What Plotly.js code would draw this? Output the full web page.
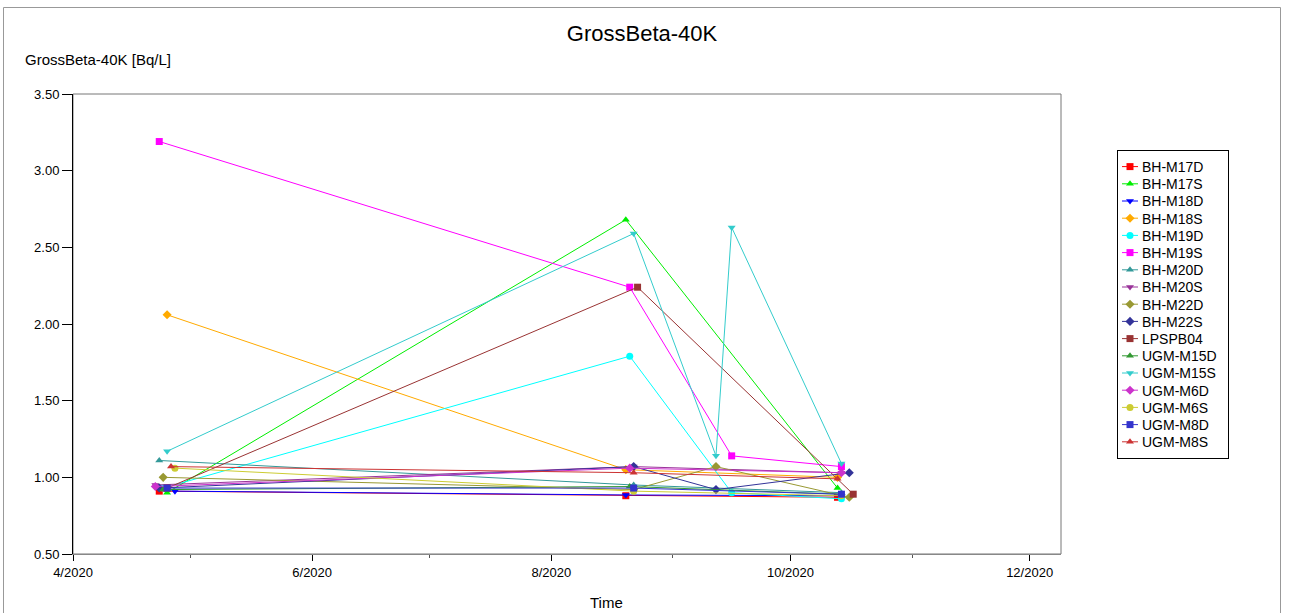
<!DOCTYPE html>
<html>
<head>
<meta charset="utf-8">
<script src="https://cdn.plot.ly/plotly-3.0.1.min.js"></script>
<style>html,body{margin:0;padding:0;background:#fff;}#chart{width:1296px;height:613px;}</style>
</head>
<body>
<div id="chart"></div>
<script>
// ---- data ----
const seriesNames = ["BH-M17D","BH-M17S","BH-M18D","BH-M18S","BH-M19D","BH-M19S","BH-M20D","BH-M20S","BH-M22D","BH-M22S","LPSPB04","UGM-M15D","UGM-M15S","UGM-M6D","UGM-M6S","UGM-M8D","UGM-M8S"];

const dates_BH_M17D = ["2020-04-23","2020-08-20","2020-10-13"];
const vals_BH_M17D  = [0.91, 0.88, 0.87];
const dates_BH_M17S = ["2020-04-25","2020-08-20","2020-10-13"];
const vals_BH_M17S  = [0.90, 2.68, 0.93];
const dates_BH_M18D = ["2020-04-27","2020-08-20","2020-10-14"];
const vals_BH_M18D  = [0.91, 0.885, 0.88];
const dates_BH_M18S = ["2020-04-25","2020-08-20","2020-10-13"];
const vals_BH_M18S  = [2.06, 1.05, 1.00];
const dates_BH_M19D = ["2020-04-24","2020-08-21","2020-09-16","2020-10-14"];
const vals_BH_M19D  = [0.93, 1.79, 0.90, 0.86];
const dates_BH_M19S = ["2020-04-23","2020-08-21","2020-09-16","2020-10-14"];
const vals_BH_M19S  = [3.19, 2.24, 1.14, 1.07];
const dates_BH_M20D = ["2020-04-23","2020-08-22","2020-10-14"];
const vals_BH_M20D  = [1.11, 0.95, 0.90];
const dates_BH_M20S = ["2020-04-22","2020-08-22","2020-10-14"];
const vals_BH_M20S  = [0.95, 1.07, 1.03];
const dates_BH_M22D = ["2020-04-24","2020-08-22","2020-09-12","2020-10-16"];
const vals_BH_M22D  = [1.00, 0.92, 1.07, 0.87];
const dates_BH_M22S = ["2020-04-23","2020-08-22","2020-09-12","2020-10-16"];
const vals_BH_M22S  = [0.93, 1.07, 0.92, 1.03];
const dates_LPSPB04 = ["2020-04-25","2020-08-23","2020-10-17"];
const vals_LPSPB04  = [0.93, 2.24, 0.89];
const dates_UGM_M15D = ["2020-04-24","2020-08-21","2020-10-14"];
const vals_UGM_M15D  = [0.92, 0.94, 0.89];
const dates_UGM_M15S = ["2020-04-25","2020-08-22","2020-09-12","2020-09-16","2020-10-14"];
const vals_UGM_M15S  = [1.17, 2.59, 1.14, 2.63, 1.09];
const dates_UGM_M6D = ["2020-04-22","2020-08-21","2020-10-14"];
const vals_UGM_M6D  = [0.94, 1.06, 1.03];
const dates_UGM_M6S = ["2020-04-27","2020-08-22","2020-10-14"];
const vals_UGM_M6S  = [1.06, 0.91, 0.88];
const dates_UGM_M8D = ["2020-04-25","2020-08-22","2020-10-14"];
const vals_UGM_M8D  = [0.93, 0.93, 0.89];
const dates_UGM_M8S = ["2020-04-26","2020-08-22","2020-10-13"];
const vals_UGM_M8S  = [1.07, 1.03, 0.99];

const allDates = [dates_BH_M17D,dates_BH_M17S,dates_BH_M18D,dates_BH_M18S,dates_BH_M19D,dates_BH_M19S,dates_BH_M20D,dates_BH_M20S,dates_BH_M22D,dates_BH_M22S,dates_LPSPB04,dates_UGM_M15D,dates_UGM_M15S,dates_UGM_M6D,dates_UGM_M6S,dates_UGM_M8D,dates_UGM_M8S];
const allVals = [vals_BH_M17D,vals_BH_M17S,vals_BH_M18D,vals_BH_M18S,vals_BH_M19D,vals_BH_M19S,vals_BH_M20D,vals_BH_M20S,vals_BH_M22D,vals_BH_M22S,vals_LPSPB04,vals_UGM_M15D,vals_UGM_M15S,vals_UGM_M6D,vals_UGM_M6S,vals_UGM_M8D,vals_UGM_M8S];

// ---- styles ----
const colors = ["#ff0000","#00ee00","#0000ff","#ffaa00","#00ffff","#ff00ff","#339999","#993399","#999933","#333399","#993333","#339933","#33cccc","#cc33cc","#cccc33","#3333cc","#cc3333"];
const symbols = ["square","triangle-up","triangle-down","diamond","circle","square","triangle-up","triangle-down","diamond","diamond","square","triangle-up","triangle-down","diamond","circle","square","triangle-up"];

const FONT = "Liberation Sans, Arial, sans-serif";

const traces = seriesNames.map((n, i) => ({
  type: "scatter",
  mode: "lines+markers",
  name: n,
  x: allDates[i],
  y: allVals[i],
  line: {color: colors[i], width: 1},
  marker: {color: colors[i], symbol: symbols[i], size: 7},
  cliponaxis: false
}));

const W = 1296, H = 613;
const L = 73, R = 1061, T = 94, B = 554;
const px2x = p => (p - L) / (R - L);
const px2y = p => (B - p) / (B - T);

const layout = {
  width: W, height: H,
  margin: {l: L, r: W - R, t: T, b: H - B, pad: 0},
  paper_bgcolor: "#ffffff",
  plot_bgcolor: "#ffffff",
  font: {family: FONT, size: 13, color: "#000"},
  title: {text: "GrossBeta-40K", font: {family: FONT, size: 22, color: "#000"},
          x: 642 / W, xref: "container", xanchor: "center",
          y: 1 - 33 / H, yref: "container", yanchor: "middle"},
  showlegend: true,
  legend: {x: px2x(1117), y: px2y(150), xanchor: "left", yanchor: "top",
           bordercolor: "#000", borderwidth: 1, bgcolor: "#fff",
           font: {family: FONT, size: 14, color: "#000"},
           tracegroupgap: 0, itemwidth: 30},
  xaxis: {
    type: "date",
    range: ["2020-04-01", "2020-12-09"],
    tick0: "2020-04-01", dtick: "M2",
    tickformat: "%-m/%Y",
    ticks: "outside", ticklen: 6, tickcolor: "#000", tickwidth: 1,
    minor: {dtick: "M1", ticks: "outside", ticklen: 3, tickcolor: "#555"},
    showgrid: false, zeroline: false,
    showline: true, linecolor: "#888", linewidth: 1,
    tickfont: {family: FONT, size: 13, color: "#000"}
  },
  yaxis: {
    range: [0.5, 3.5], dtick: 0.5, tick0: 0.5,
    tickformat: ".2f",
    ticks: "outside", ticklen: 10, tickcolor: "#000", tickwidth: 1,
    showgrid: false, zeroline: false,
    showline: true, linecolor: "#000", linewidth: 1,
    tickfont: {family: FONT, size: 13, color: "#000"}
  },
  shapes: [
    {type: "rect", xref: "paper", yref: "paper", x0: 0, x1: 1, y0: 0, y1: 1,
     line: {color: "#777", width: 1}, layer: "below"},
    {type: "rect", xref: "paper", yref: "paper", x0: px2x(3.5), x1: px2x(1280.5), y0: px2y(640), y1: px2y(7.5),
     line: {color: "#999", width: 1}, layer: "below"}
  ],
  annotations: [
    {text: "GrossBeta-40K [Bq/L]", xref: "paper", yref: "paper",
     x: px2x(23), y: px2y(60), xanchor: "left", yanchor: "middle",
     showarrow: false, font: {family: FONT, size: 15, color: "#000"}},
    {text: "Time", xref: "paper", yref: "paper",
     x: px2x(606), y: px2y(602), xanchor: "center", yanchor: "middle",
     showarrow: false, font: {family: FONT, size: 15, color: "#000"}}
  ]
};

// tighten legend rows / sample width to match the reference legend box
function compactLegend(gd) {
  const step = 17.2;
  const items = Array.from(gd.querySelectorAll(".legend .traces"));
  if (items.length < 2) return;
  const parse = g => {
    const m = (g.getAttribute("transform") || "").match(/translate\(\s*([-\d.e]+)[ ,]+([-\d.e]+)\s*\)/);
    return m ? [parseFloat(m[1]), parseFloat(m[2])] : null;
  };
  const p0 = parse(items[0]), p1 = parse(items[1]);
  if (!p0 || !p1) return;
  const origStep = p1[1] - p0[1];
  let maxW = 0;
  items.forEach((g, i) => {
    const p = parse(g);
    g.setAttribute("transform", "translate(" + p[0] + "," + (p0[1] + i * step) + ")");
    g.querySelectorAll(".legendlines path").forEach(pa => pa.setAttribute("d", "M4,0h16"));
    g.querySelectorAll(".legendpoints path").forEach(pa => pa.setAttribute("transform", "translate(12,0)"));
    const tx = g.querySelector(".legendtext");
    if (tx) {
      tx.setAttribute("x", 24);
      try { maxW = Math.max(maxW, tx.getComputedTextLength()); } catch (e) {}
    }
  });
  const bg = gd.querySelector(".legend .bg");
  if (bg) {
    const h = parseFloat(bg.getAttribute("height"));
    bg.setAttribute("height", h - (items.length - 1) * (origStep - step));
    if (maxW > 0) bg.setAttribute("width", 24 + maxW + 12);
  }
}

Plotly.newPlot("chart", traces, layout, {displayModeBar: false, staticPlot: true}).then(compactLegend);
</script>
</body>
</html>
